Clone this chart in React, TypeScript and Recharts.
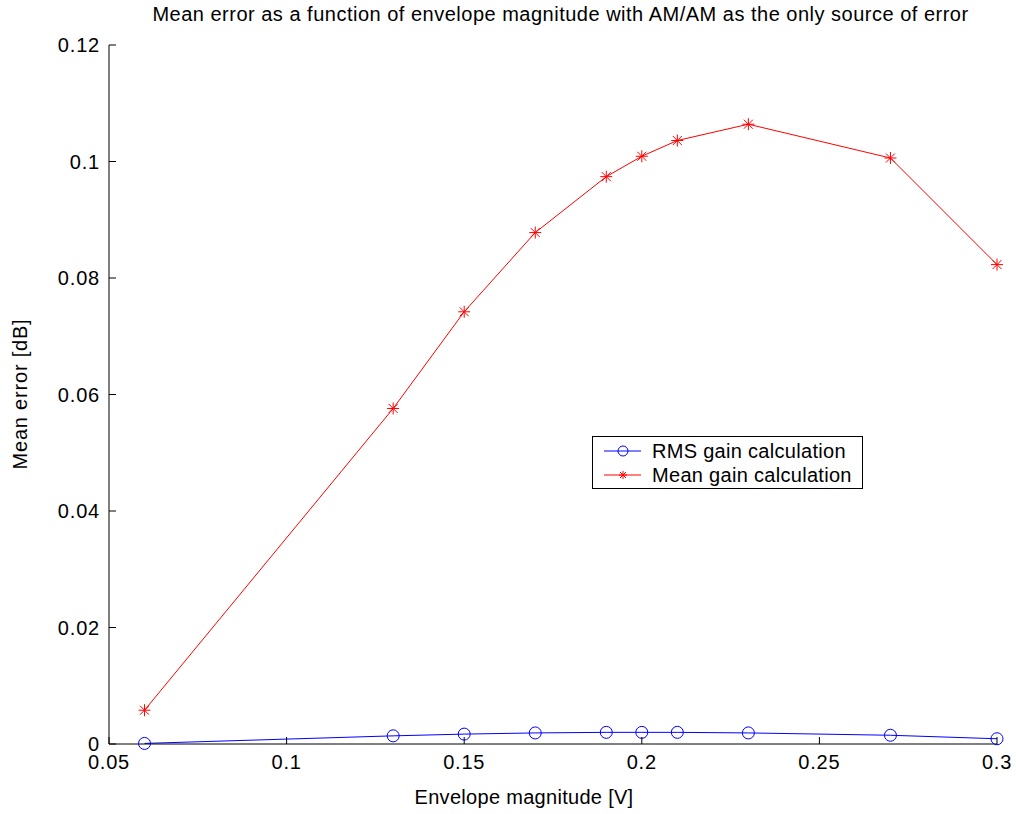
import React from 'react'
import { LineChart, Line, XAxis, YAxis, Legend } from 'recharts'

const envelope = [0.06, 0.13, 0.15, 0.17, 0.19, 0.2, 0.21, 0.23, 0.27, 0.3]
const rmsGainError = [0.0001, 0.0014, 0.0017, 0.0019, 0.002, 0.002, 0.002, 0.0019, 0.0015, 0.0009]
const meanGainError = [0.0058, 0.0576, 0.0742, 0.0878, 0.0974, 0.1009, 0.1036, 0.1064, 0.1006, 0.0823]
const xTicks = [0.05, 0.1, 0.15, 0.2, 0.25, 0.3]
const yTicks = [0, 0.02, 0.04, 0.06, 0.08, 0.1, 0.12]

const font = '"Liberation Sans", Arial, sans-serif'
const fontSize = 20
const blue = '#0000ff'
const red = '#ff0000'

const data = envelope.map((x, i) => ({ x, rms: rmsGainError[i], mean: meanGainError[i] }))

// MATLAB style ticks: short line inside the box, label outside
const BottomTick = (props: any) => {
  const { x, y, payload } = props
  return (
    <g>
      <line x1={x} y1={y} x2={x} y2={y - 7} stroke="#000" />
      <text x={x} y={y + 25} textAnchor="middle" fontFamily={font} fontSize={fontSize} letterSpacing={0.8} fill="#000">
        {String(payload.value)}
      </text>
    </g>
  )
}

const LeftTick = (props: any) => {
  const { x, y, payload } = props
  return (
    <g>
      <line x1={x} y1={y} x2={x + 7} y2={y} stroke="#000" />
      <text x={x - 9} y={y + 7} textAnchor="end" fontFamily={font} fontSize={fontSize} letterSpacing={0.8} fill="#000">
        {String(payload.value)}
      </text>
    </g>
  )
}

const TopTick = (props: any) => {
  const { x, y } = props
  return <line x1={x} y1={y} x2={x} y2={y + 7} stroke="#000" />
}

const RightTick = (props: any) => {
  const { x, y } = props
  return <line x1={x} y1={y} x2={x - 7} y2={y} stroke="#000" />
}

const Asterisk = (props: any) => {
  const { cx, cy, index } = props
  const s = 6
  const d = 4.5
  return (
    <g key={`star-${index}`} stroke={red} strokeWidth={1}>
      <line x1={cx - s} y1={cy} x2={cx + s} y2={cy} />
      <line x1={cx} y1={cy - s} x2={cx} y2={cy + s} />
      <line x1={cx - d} y1={cy - d} x2={cx + d} y2={cy + d} />
      <line x1={cx - d} y1={cy + d} x2={cx + d} y2={cy - d} />
    </g>
  )
}

const LegendBox = () => (
  <div
    style={{
      width: 271,
      height: 53,
      border: '1px solid #000',
      background: '#fff',
      fontFamily: font,
      fontSize,
      boxSizing: 'border-box',
      paddingTop: 2,
    }}
  >
    {[
      { label: 'RMS gain calculation', color: blue, marker: 'circle' },
      { label: 'Mean gain calculation', color: red, marker: 'star' },
    ].map((item) => (
      <div key={item.label} style={{ display: 'flex', alignItems: 'center', height: 24 }}>
        <svg width={59} height={20} style={{ flex: 'none' }}>
          <line x1={11} y1={10} x2={48} y2={10} stroke={item.color} />
          {item.marker === 'circle' ? (
            <circle cx={30} cy={10} r={5} stroke={item.color} fill="none" />
          ) : (
            <g stroke={item.color}>
              <line x1={26} y1={10} x2={34} y2={10} />
              <line x1={30} y1={6} x2={30} y2={14} />
              <line x1={27} y1={7} x2={33} y2={13} />
              <line x1={27} y1={13} x2={33} y2={7} />
            </g>
          )}
        </svg>
        <span style={{ color: '#000', letterSpacing: 0.3 }}>{item.label}</span>
      </div>
    ))}
  </div>
)

export default function App() {
  return (
    <div style={{ position: 'absolute', left: 0, top: 0, width: 1016, height: 814, background: '#fff' }}>
      <LineChart
        width={1016}
        height={814}
        data={data}
        margin={{ top: 45, right: 19, bottom: 0, left: 0 }}
      >
        <XAxis
          dataKey="x"
          type="number"
          domain={[0.05, 0.3]}
          ticks={xTicks}
          interval={0}
          height={70}
          tickSize={0}
          tickMargin={0}
          tick={<BottomTick />}
          axisLine={{ stroke: '#000' }}
        />
        <XAxis
          xAxisId="top"
          orientation="top"
          dataKey="x"
          type="number"
          domain={[0.05, 0.3]}
          ticks={xTicks}
          interval={0}
          height={0}
          tickSize={0}
          tickMargin={0}
          tick={<TopTick />}
          axisLine={{ stroke: '#000' }}
        />
        <YAxis
          type="number"
          domain={[0, 0.12]}
          ticks={yTicks}
          interval={0}
          width={109}
          tickSize={0}
          tickMargin={0}
          tick={<LeftTick />}
          axisLine={{ stroke: '#000' }}
        />
        <YAxis
          yAxisId="right"
          orientation="right"
          type="number"
          domain={[0, 0.12]}
          ticks={yTicks}
          interval={0}
          width={0}
          tickSize={0}
          tickMargin={0}
          tick={<RightTick />}
          axisLine={{ stroke: '#000' }}
        />
        <Legend
          content={<LegendBox />}
          layout="horizontal"
          verticalAlign="middle"
          align="center"
          wrapperStyle={{ position: 'absolute', left: 592, top: 436, width: 271, height: 53 }}
        />
        <Line
          dataKey="rms"
          name="RMS gain calculation"
          stroke={blue}
          strokeWidth={1}
          dot={{ r: 6, stroke: blue, fill: 'none', strokeWidth: 1 }}
          activeDot={false}
          isAnimationActive={false}
        />
        <Line
          dataKey="mean"
          name="Mean gain calculation"
          stroke={red}
          strokeWidth={1}
          dot={<Asterisk />}
          activeDot={false}
          isAnimationActive={false}
        />
      </LineChart>
      <div
        style={{
          position: 'absolute',
          left: 0,
          width: 1121,
          top: 3,
          textAlign: 'center',
          fontFamily: font,
          fontSize,
          letterSpacing: 0.5,
          whiteSpace: 'nowrap',
        }}
      >
        Mean error as a function of envelope magnitude with AM/AM as the only source of error
      </div>
      <div
        style={{
          position: 'absolute',
          left: 0,
          width: 1048,
          top: 786,
          textAlign: 'center',
          fontFamily: font,
          fontSize,
          letterSpacing: 0.3,
          whiteSpace: 'nowrap',
        }}
      >
        Envelope magnitude [V]
      </div>
      <div
        style={{
          position: 'absolute',
          left: 20,
          top: 394,
          transform: 'translate(-50%, -50%) rotate(-90deg)',
          fontFamily: font,
          fontSize,
          letterSpacing: 0.8,
          whiteSpace: 'nowrap',
        }}
      >
        Mean error [dB]
      </div>
    </div>
  )
}
